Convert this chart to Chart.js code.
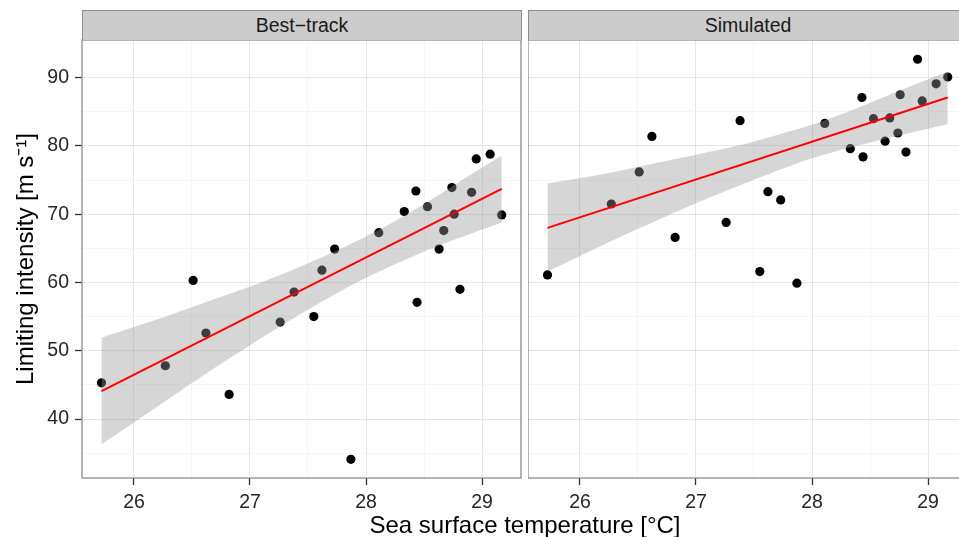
<!DOCTYPE html>
<html>
<head>
<meta charset="utf-8">
<script src="https://cdn.jsdelivr.net/npm/chart.js@4.4.1/dist/chart.umd.min.js"></script>
<style>
  html, body { margin: 0; padding: 0; width: 959px; height: 537px; overflow: hidden; background: #fff; }
  body { position: relative; font-family: "Liberation Sans", Arial, sans-serif; }
  canvas { position: absolute; top: 0; }
  #leftPanel { left: 0; }
  #rightPanel { left: 528px; }
  .strip {
    position: absolute; top: 10px; height: 30px; width: 440px; box-sizing: border-box;
    background: #cccccc; border: 1px solid #8c8c8c; border-bottom: none;
    text-align: center; line-height: 29px; font-size: 19.5px; color: #1a1a1a;
  }
  #xTitle {
    position: absolute; top: 511px; left: 525px; transform: translateX(-50%);
    font-size: 24px; line-height: 28px; white-space: nowrap; color: #000;
  }
</style>
</head>
<body>
<canvas id="leftPanel" width="530" height="537"></canvas>
<canvas id="rightPanel" width="441" height="537"></canvas>
<div class="strip" style="left:82px">Best−track</div>
<div class="strip" style="left:528px">Simulated</div>
<div id="xTitle">Sea surface temperature [°C]</div>
<script>
// sea surface temperature of each point (same for both panels)
const sst = [25.72, 26.27, 26.51, 26.62, 26.82, 27.26, 27.38, 27.55, 27.62, 27.73, 27.87, 28.11, 28.33,
             28.43, 28.44, 28.53, 28.63, 28.67, 28.74, 28.76, 28.81, 28.91, 28.95, 29.07, 29.17];
const bestTrack = [45.3, 47.8, 60.3, 52.6, 43.6, 54.2, 58.6, 55.0, 61.8, 64.9, 34.1, 67.3, 70.4,
                   73.4, 57.1, 71.1, 64.9, 67.6, 73.9, 70.0, 59.0, 73.2, 78.1, 78.8, 69.9];
const simulated = [61.1, 71.5, 76.2, 81.4, 66.6, 68.8, 83.7, 61.6, 73.3, 72.1, 59.9, 83.3, 79.6,
                   87.1, 78.4, 84.0, 80.7, 84.1, 81.9, 87.5, 79.1, 92.7, 86.6, 89.1, 90.1];

// fitted line and confidence band
const fitX = [25.72, 29.17];
const fitBest = [44.1, 73.7];
const fitSim = [68.0, 87.1];
const bandX = [25.72, 26.2, 26.6, 27.0, 27.4, 27.8, 28.1, 28.5, 28.8, 29.17];
const bestUpper = [51.9, 54.6, 57.0, 59.4, 62.1, 65.1, 67.6, 71.5, 74.7, 78.6];
const bestLower = [36.3, 41.8, 46.4, 50.8, 55.0, 58.9, 61.5, 64.5, 66.5, 68.8];
const simUpper = [74.5, 75.9, 77.3, 78.7, 80.2, 82.1, 83.7, 86.3, 88.4, 90.9];
const simLower = [61.6, 65.5, 68.6, 71.6, 74.4, 77.0, 78.7, 80.5, 81.7, 83.2];

// axis ticks
const xMajor = [26, 27, 28, 29];
const xMinor = [26.5, 27.5, 28.5];
const yMajor = [40, 50, 60, 70, 80, 90];
const yMinor = [35, 45, 55, 65, 75, 85, 95];

Chart.defaults.font.family = '"Liberation Sans", Arial, sans-serif';

const pts = (xs, ys) => xs.map((x, i) => ({ x: x, y: ys[i] }));

// grey frame round each panel, like ggplot's panel border
const panelBorder = {
  id: 'panelBorder',
  afterDatasetsDraw(chart) {
    const { ctx, chartArea: a } = chart;
    ctx.save();
    ctx.strokeStyle = '#8c8c8c';
    ctx.lineWidth = 1.3;
    ctx.strokeRect(a.left, a.top, a.right - a.left, a.bottom - a.top);
    ctx.restore();
  }
};

function makePanel(id, ys, fitY, upper, lower, showY) {
  const gridColor = (majors) => (c) => majors.includes(c.tick.value) ? '#e5e5e5' : '#f5f5f5';
  const tickColor = (majors) => (c) => majors.includes(c.tick.value) ? '#333333' : 'rgba(0,0,0,0)';
  return new Chart(document.getElementById(id), {
    type: 'scatter',
    data: {
      datasets: [
        { data: pts(fitX, fitY), showLine: true, borderColor: '#ff0000', borderWidth: 2, pointRadius: 0 },
        { data: pts(bandX, upper), showLine: true, borderWidth: 0, borderColor: 'rgba(0,0,0,0)',
          pointRadius: 0, tension: 0.4, fill: '+1', backgroundColor: 'rgba(153,153,153,0.4)' },
        { data: pts(bandX, lower), showLine: true, borderWidth: 0, borderColor: 'rgba(0,0,0,0)',
          pointRadius: 0, tension: 0.4, fill: false },
        { data: pts(sst, ys), pointRadius: 4.6, pointBorderWidth: 0, pointBackgroundColor: '#000' }
      ]
    },
    options: {
      responsive: false,
      animation: false,
      layout: { autoPadding: false, padding: { top: 40, right: showY ? 9 : 2, bottom: 0, left: 0 } },
      plugins: { legend: { display: false }, tooltip: { enabled: false } },
      scales: {
        x: {
          type: 'linear', min: 25.552, max: 29.336,
          afterBuildTicks: (s) => { s.ticks = xMajor.concat(xMinor).map(v => ({ value: v })); },
          afterFit: (s) => { s.height = 59; },
          border: { display: false },
          grid: { color: gridColor(xMajor), lineWidth: 1, tickLength: 7, tickColor: tickColor(xMajor), tickWidth: 1.3 },
          ticks: { autoSkip: false, maxRotation: 0, padding: 6, color: '#262626', font: { size: 19.5 },
                   callback: (v) => xMajor.includes(v) ? String(v) : '' }
        },
        y: {
          type: 'linear', min: 31.36, max: 95.52,
          afterBuildTicks: (s) => { s.ticks = yMajor.concat(yMinor).map(v => ({ value: v })); },
          afterFit: (s) => { s.width = showY ? 82 : 0; },
          border: { display: false },
          grid: { color: gridColor(yMajor), lineWidth: 1, drawTicks: showY, tickLength: 7,
                  tickColor: tickColor(yMajor), tickWidth: 1.3 },
          ticks: { display: showY, autoSkip: false, padding: 6, color: '#262626', font: { size: 19.5 },
                   callback: (v) => yMajor.includes(v) ? String(v) : '' },
          title: { display: showY, text: 'Limiting intensity [m s⁻¹]', color: '#000',
                   font: { size: 24 }, padding: { top: 12, bottom: 0 } }
        }
      }
    },
    plugins: [panelBorder]
  });
}

makePanel('leftPanel', bestTrack, fitBest, bestUpper, bestLower, true);
makePanel('rightPanel', simulated, fitSim, simUpper, simLower, false);
</script>
</body>
</html>
